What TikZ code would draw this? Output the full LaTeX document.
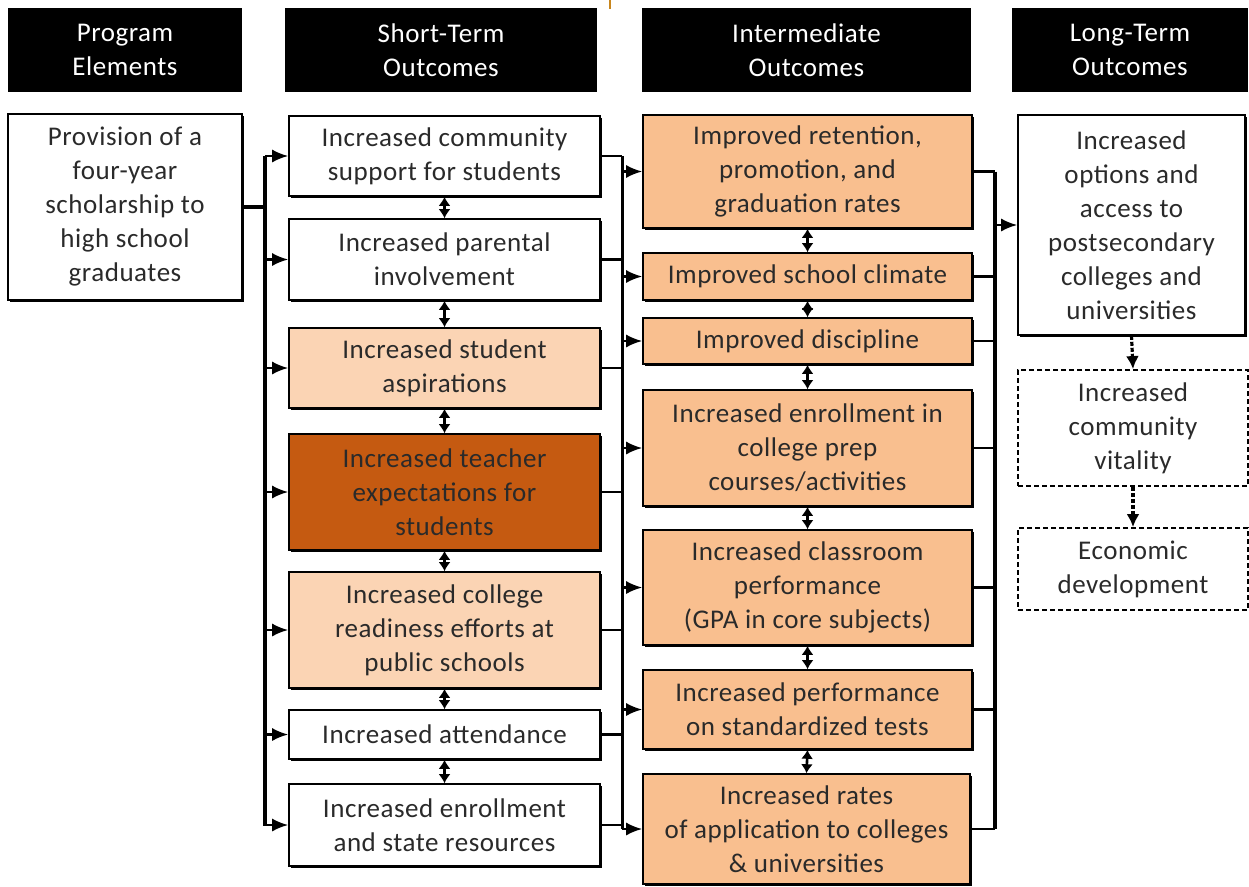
\documentclass[tikz,border=0pt]{standalone}
\usepackage{fontspec}
\setmainfont{Carlito}[LetterSpace=2]
\usetikzlibrary{arrows.meta,shadows}
\definecolor{txt}{HTML}{2A2A2A}
\definecolor{lightpeach}{HTML}{FBD4B4}
\definecolor{midpeach}{HTML}{F9BF8F}
\definecolor{darkor}{HTML}{C55A11}
\definecolor{tickc}{HTML}{C8861E}
\begin{document}
\begin{tikzpicture}[x=1pt,y=-1pt,
  txtfont/.style={font=\fontsize{27}{34}\selectfont},
  box/.style={draw=black, line width=1.6pt, fill=white, text=txt, align=center, inner sep=0pt, txtfont,
    drop shadow={shadow xshift=2pt, shadow yshift=-2pt, fill=black, opacity=1}},
  lp/.style={box, fill=lightpeach},
  mp/.style={box, fill=midpeach},
  dk/.style={box, fill=darkor},
  hdr/.style={fill=black, text=white, align=center, inner sep=0pt, txtfont},
  dbox/.style={draw=black, line width=1.8pt, dash pattern=on 5pt off 3pt, fill=white, text=txt, align=center, inner sep=0pt, txtfont},
  link/.style={line width=2.2pt},
  bus/.style={line width=3.8pt},
  arr/.style={link, -{Latex[length=16pt,width=13pt]}},
  darr/.style={line width=2.6pt, {Latex[length=9pt,width=12pt]}-{Latex[length=9pt,width=12pt]}},
  dsh/.style={line width=3.2pt, dash pattern=on 4pt off 2pt, -{Latex[length=13pt,width=13pt]}}
]
\useasboundingbox[fill=white] (0,0) rectangle (1249,886);
\draw[tickc, line width=2.5pt] (610,0) -- (610,9);

% headers
\node[hdr, minimum width=234pt, minimum height=84pt] (h1) at (125,50) {Program\\Elements};
\node[hdr, minimum width=312pt, minimum height=84pt] (h2) at (441,50) {Short-Term\\Outcomes};
\node[hdr, minimum width=329pt, minimum height=84pt] (h3) at (806.5,50) {Intermediate\\Outcomes};
\node[hdr, minimum width=236pt, minimum height=84pt] (h4) at (1130,50) {Long-Term\\Outcomes};

% program elements
\node[box, minimum width=234pt, minimum height=186pt] (prov) at (125,207) {Provision of a\\four-year\\scholarship to\\high school\\graduates};

% short-term
\node[box, minimum width=311pt, minimum height=80pt] (s1) at (444.5,156) {Increased community\\support for students};
\node[box, minimum width=311pt, minimum height=81pt] (s2) at (444.5,259.5) {Increased parental\\involvement};
\node[lp, minimum width=311pt, minimum height=80pt] (s3) at (444.5,368) {Increased student\\aspirations};
\node[dk, minimum width=311pt, minimum height=116pt] (s4) at (444.5,492) {Increased teacher\\expectations for\\students};
\node[lp, minimum width=311pt, minimum height=116pt] (s5) at (444.5,630) {Increased college\\readiness efforts at\\public schools};
\node[box, minimum width=311pt, minimum height=49pt] (s6) at (444.5,734.5) {Increased attendance};
\node[box, minimum width=311pt, minimum height=82pt] (s7) at (444.5,825) {Increased enrollment\\and state resources};

% intermediate
\node[mp, minimum width=329pt, minimum height=113pt] (i1) at (807.5,171.5) {Improved retention,\\promotion, and\\graduation rates};
\node[mp, minimum width=329pt, minimum height=47pt] (i2) at (807.5,276.5) {Improved school climate};
\node[mp, minimum width=329pt, minimum height=46pt] (i3) at (807.5,341) {Improved discipline};
\node[mp, minimum width=329pt, minimum height=116pt] (i4) at (807.5,448) {Increased enrollment in\\college prep\\courses/activities};
\node[mp, minimum width=329pt, minimum height=115pt] (i5) at (807.5,587.5) {Increased classroom\\performance\\(GPA in core subjects)};
\node[mp, minimum width=329pt, minimum height=79pt] (i6) at (807.5,709.5) {Increased performance\\on standardized tests};
\node[mp, minimum width=327pt, minimum height=110pt] (i7) at (806.5,829) {Increased rates\\of application to colleges\\\& universities};

% long-term
\node[box, minimum width=227pt, minimum height=220pt] (l1) at (1131.5,225) {Increased\\options and\\access to\\postsecondary\\colleges and\\universities};
\node[dbox, minimum width=230pt, minimum height=116pt] (l2) at (1133,428) {Increased\\community\\vitality};
\node[dbox, minimum width=230pt, minimum height=82pt] (l3) at (1133,569) {Economic\\development};

% bus 1
\coordinate (b1t) at (265,156);
\coordinate (b1b) at (265,826);
\draw[bus] (prov.east) -- (prov.east -| b1t);
\draw[bus] (b1t) -- (b1b);
\foreach \n in {s1,s2,s3,s4,s5,s6,s7} \draw[arr] (\n.west -| b1t) -- (\n.west);

% bus 2
\coordinate (b2t) at (622,156);
\coordinate (b2b) at (622,829);
\draw[bus, line width=3pt] (b2t) -- (b2b);
\foreach \n in {s1,s2,s3,s4,s5,s6,s7} \draw[link] (\n.east) -- (\n.east -| b2t);
\foreach \n in {i1,i2,i3,i4,i5,i6,i7} \draw[arr] (\n.west -| b2t) -- (\n.west);

% bus 3
\coordinate (b3t) at (995,171.5);
\coordinate (b3b) at (995,829);
\draw[bus] (b3t) -- (b3b);
\foreach \n in {i1,i2,i3,i4,i5,i6,i7} \draw[link] (\n.east) -- (\n.east -| b3t);
\draw[arr] (l1.west -| b3t) -- (l1.west);

% vertical double arrows
\draw[darr] (s1.south) -- (s2.north);
\draw[darr] (s2.south) -- (s3.north);
\draw[darr] (s3.south) -- (s4.north);
\draw[darr] (s4.south) -- (s5.north);
\draw[darr] (s5.south) -- (s6.north);
\draw[darr] (s6.south) -- (s7.north);
\draw[darr] (i1.south) -- (i2.north);
\draw[darr] (i2.south) -- (i3.north);
\draw[darr] (i3.south) -- (i4.north);
\draw[darr] (i4.south) -- (i5.north);
\draw[darr] (i5.south) -- (i6.north);
\draw[darr] (i6.south) -- (i7.north);

% long-term dashed
\draw[dsh] (l1.south) -- (l2.north);
\draw[dsh] (l2.south) -- (l3.north);
\end{tikzpicture}
\end{document}
